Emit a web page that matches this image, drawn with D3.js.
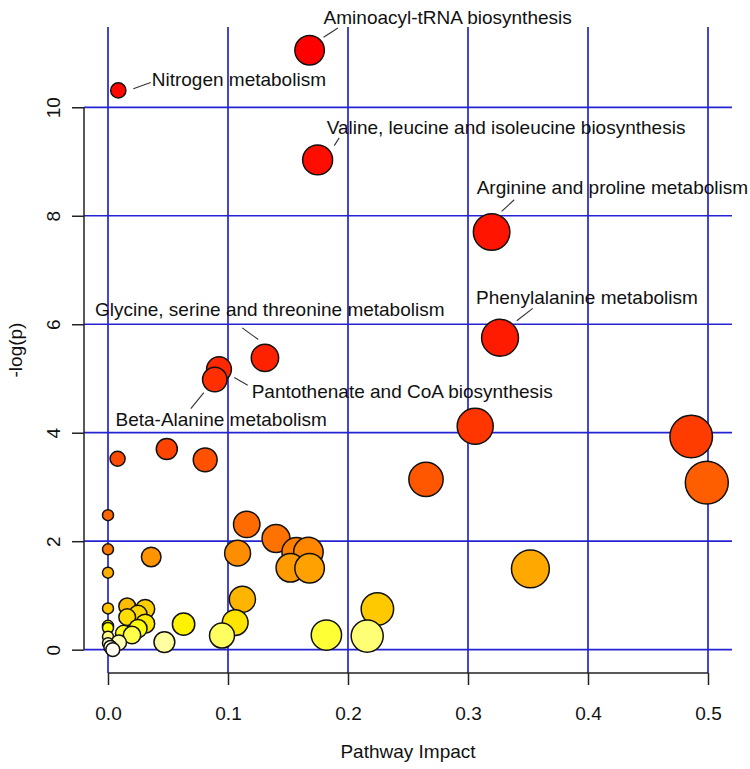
<!DOCTYPE html>
<html>
<head>
<meta charset="utf-8">
<script src="https://cdn.jsdelivr.net/npm/d3@7"></script>
<style>
  html, body { margin: 0; padding: 0; background: #ffffff; }
  svg { display: block; }
  text { font-family: "Liberation Sans", Arial, sans-serif; fill: #111; }
</style>
</head>
<body>
<svg id="chart" width="750" height="769"></svg>
<script>
// ---------------- data ----------------
const pathwayNames = [
  "Aminoacyl-tRNA biosynthesis", "Nitrogen metabolism",
  "Valine, leucine and isoleucine biosynthesis", "Arginine and proline metabolism",
  "Phenylalanine metabolism", "Glycine, serine and threonine metabolism",
  "Pantothenate and CoA biosynthesis", "Beta-Alanine metabolism",
  "", "", "", "", "", "", "", "", "", "", "", "", "", "", "", "", "", "",
  "", "", "", "", "", "", "", "", "", "", "", "", "", "", "", "", "", "",
  "", "", "", "", "", "", ""
];
const impact = [
  0.168, 0.0086, 0.1747, 0.3197, 0.3267, 0.1308, 0.0925, 0.089,
  0.306, 0.486, 0.049, 0.008, 0.081, 0.265, 0.499, 0.0,
  0.1156, 0.14, 0.0, 0.157, 0.167, 0.108, 0.036, 0.152,
  0.168, 0.352, 0.0, 0.112, 0.016, 0.0, 0.2245, 0.031,
  0.025, 0.016, 0.106, 0.031, 0.063, 0.0, 0.0, 0.025,
  0.013, 0.182, 0.020, 0.095, 0.216, 0.0, 0.047, 0.009,
  0.0, 0.002, 0.004
];
const negLogP = [
  11.05, 10.31, 9.03, 7.70, 5.75, 5.38, 5.17, 4.98,
  4.12, 3.93, 3.70, 3.52, 3.50, 3.14, 3.08, 2.48,
  2.31, 2.05, 1.85, 1.80, 1.80, 1.78, 1.71, 1.51,
  1.50, 1.49, 1.42, 0.93, 0.80, 0.76, 0.75, 0.75,
  0.65, 0.60, 0.50, 0.48, 0.47, 0.44, 0.40, 0.39,
  0.30, 0.27, 0.27, 0.26, 0.25, 0.24, 0.14, 0.13,
  0.12, 0.05, 0.0
];
const xTicks = [0.0, 0.1, 0.2, 0.3, 0.4, 0.5];
const xTickLabels = ["0.0", "0.1", "0.2", "0.3", "0.4", "0.5"];
const yTicks = [0, 2, 4, 6, 8, 10];
const yTickLabels = ["0", "2", "4", "6", "8", "10"];
const xTitle = "Pathway Impact";
const yTitle = "-log(p)";

// -------------- label layout (pixel offsets from the point) --------------
const labelLayout = {
  "Aminoacyl-tRNA biosynthesis": {tx: 14, ty: -26.7, l: [14, -13, 28.3, -22.4]},
  "Nitrogen metabolism": {tx: 33.4, ty: -4.7, l: [15, -1.7, 32.4, -8]},
  "Valine, leucine and isoleucine biosynthesis": {tx: 9, ty: -26.3, l: [16.6, -14.3, 21.6, -22]},
  "Arginine and proline metabolism": {tx: -15, ty: -38.3, l: [10, -20.6, 22.6, -32.3]},
  "Phenylalanine metabolism": {tx: -24, ty: -33.7, l: [16.7, -17, 32.7, -29.4]},
  "Glycine, serine and threonine metabolism": {tx: -170, ty: -41.7, l: [-22.7, -30, -6.7, -18.4]},
  "Pantothenate and CoA biosynthesis": {tx: 32.7, ty: 28.7, l: [15.3, 8.3, 28.7, 16]},
  "Beta-Alanine metabolism": {tx: -99.3, ty: 46.4, l: [-11, 13, -24, 29]}
};

// -------------- R heat.colors --------------
function heatColors(n) {
  const j = Math.floor(n / 4), i = n - j, out = [];
  for (let k = 0; k < i; k++) {
    const h = i > 1 ? (k / (i - 1)) * 60 : 0;
    out.push(d3.hsl(h, 1, 0.5).formatHex());
  }
  for (let k = 0; k < j; k++) {
    const s = j > 1 ? (1 - 1 / (2 * j)) - k * ((1 - 1 / j) / (j - 1)) : 0.5;
    out.push(d3.rgb(255, 255, Math.round(255 * (1 - s))).formatHex());
  }
  return out;
}

// -------------- chart --------------
const svg = d3.select("#chart");
const x = d3.scaleLinear().domain([-0.02, 0.52]).range([84, 732]);
const y = d3.scaleLinear().domain([-0.43, 11.48]).range([673, 27]);
const r = d3.scaleSqrt().domain([0, 0.5]).range([5.5, 21.5]);

const data = impact.map((v, i) => ({name: pathwayNames[i], impact: v, p: negLogP[i]}));
const order = d3.range(data.length).sort((a, b) => data[b].p - data[a].p);
const cols = heatColors(data.length);
order.forEach((idx, rank) => { data[idx].color = cols[rank]; });

// grid
const grid = svg.append("g").attr("stroke", "#2424d2").attr("stroke-width", 1.7);
grid.selectAll("line.v").data(xTicks).join("line")
  .attr("x1", d => x(d)).attr("x2", d => x(d))
  .attr("y1", y.range()[1]).attr("y2", y.range()[0]);
grid.selectAll("line.h").data(yTicks).join("line")
  .attr("y1", d => y(d)).attr("y2", d => y(d))
  .attr("x1", x.range()[0]).attr("x2", x.range()[1]);

// axes
const yAxis = d3.axisLeft(y).tickValues(yTicks).tickSize(12).tickSizeOuter(0)
  .tickFormat((d, i) => yTickLabels[i]);
const gy = svg.append("g").attr("transform", `translate(${x.range()[0]},0)`).call(yAxis);
gy.select(".domain").remove();
gy.append("line").attr("x1", 0).attr("x2", 0)
  .attr("y1", y(yTicks[0])).attr("y2", y(yTicks[yTicks.length - 1]))
  .attr("stroke", "#222").attr("stroke-width", 1.5);
gy.selectAll(".tick line").attr("stroke", "#222").attr("stroke-width", 1.5);
gy.selectAll(".tick text")
  .attr("font-size", 19).attr("font-family", "Liberation Sans, Arial, sans-serif")
  .attr("fill", "#222")
  .attr("x", null).attr("dy", null)
  .attr("text-anchor", "middle")
  .attr("transform", "translate(-24,0) rotate(-90)");

const xAxis = d3.axisBottom(x).tickValues(xTicks).tickSize(12).tickSizeOuter(0)
  .tickFormat((d, i) => xTickLabels[i]);
const gx = svg.append("g").attr("transform", `translate(0,${y.range()[0]})`).call(xAxis);
gx.select(".domain").remove();
gx.append("line").attr("y1", 0).attr("y2", 0)
  .attr("x1", x(xTicks[0])).attr("x2", x(xTicks[xTicks.length - 1]))
  .attr("stroke", "#222").attr("stroke-width", 1.5);
gx.selectAll(".tick line").attr("stroke", "#222").attr("stroke-width", 1.5);
gx.selectAll(".tick text")
  .attr("font-size", 19).attr("font-family", "Liberation Sans, Arial, sans-serif")
  .attr("fill", "#222").attr("dy", null).attr("y", 47);

// titles
svg.append("text").attr("x", (x.range()[0] + x.range()[1]) / 2).attr("y", 758)
  .attr("text-anchor", "middle").attr("font-size", 19).attr("fill", "#222").text(xTitle);
svg.append("text").attr("transform", `translate(22,${(y.range()[0] + y.range()[1]) / 2}) rotate(-90)`)
  .attr("text-anchor", "middle").attr("font-size", 19).attr("fill", "#222").text(yTitle);

// points (most significant first so less significant are drawn on top)
svg.append("g").selectAll("circle").data(order.map(i => data[i])).join("circle")
  .attr("cx", d => x(d.impact)).attr("cy", d => y(d.p)).attr("r", d => r(d.impact))
  .attr("fill", d => d.color).attr("stroke", "#111").attr("stroke-width", 1.5);

// labels
const labeled = data.filter(d => d.name && labelLayout[d.name]);
const lg = svg.append("g");
labeled.forEach(d => {
  const L = labelLayout[d.name], cx = x(d.impact), cy = y(d.p);
  lg.append("line").attr("x1", cx + L.l[0]).attr("y1", cy + L.l[1])
    .attr("x2", cx + L.l[2]).attr("y2", cy + L.l[3])
    .attr("stroke", "#333").attr("stroke-width", 1.1);
  lg.append("text").attr("x", cx + L.tx).attr("y", cy + L.ty)
    .attr("font-size", 19).attr("fill", "#111").text(d.name);
});
</script>
</body>
</html>
